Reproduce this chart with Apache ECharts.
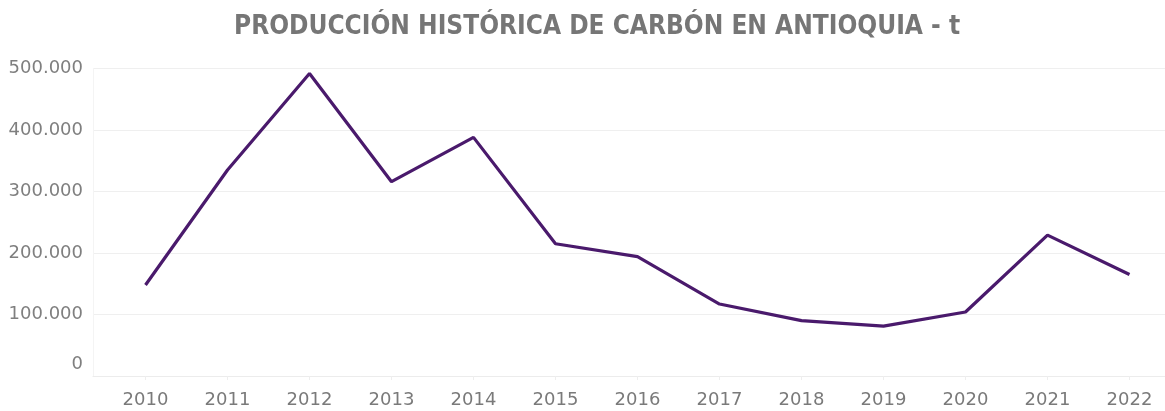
<!DOCTYPE html>
<html>
<head>
<meta charset="utf-8">
<script src="https://cdn.jsdelivr.net/npm/echarts@6/dist/echarts.min.js"></script>
<style>
  html, body { margin: 0; padding: 0; background: #fff; }
  #main { width: 1165px; height: 411px; }
</style>
</head>
<body>
<div id="main"></div>
<script>
const years = ["2010", "2011", "2012", "2013", "2014", "2015", "2016", "2017", "2018", "2019", "2020", "2021", "2022"];
const production = [148000, 335000, 492000, 316000, 388000, 215000, 194000, 117000, 90000, 81000, 104000, 229000, 165000];
const yTicks = [0, 100000, 200000, 300000, 400000, 500000];

const chart = echarts.init(document.getElementById("main"));

const fmt = (v) => (v === 0 ? "{z|0}" : String(v).replace(/\B(?=(\d{3})+(?!\d))/g, "."));
const labelFont = "DejaVu Sans";

chart.setOption({
  animation: false,
  title: {
    text: "PRODUCCIÓN HISTÓRICA DE CARBÓN EN ANTIOQUIA - t",
    left: 229,
    top: 9,
    textStyle: {
      fontFamily: "'DejaVu Sans Condensed', Roboto, sans-serif",
      fontWeight: "bold",
      fontSize: 26,
      color: "#767676",
    },
  },
  grid: [
    // background grid: gridlines + y labels
    { left: 93, right: 0, top: 68.5, bottom: 35, outerBoundsMode: "none" },
    // grid carrying the line
    { left: 104.5, width: 1066, top: 68.5, bottom: 35, outerBoundsMode: "none" },
  ],
  xAxis: [
    {
      gridIndex: 0,
      type: "category",
      data: [],
      axisLine: { show: true, lineStyle: { color: "#ececec" } },
      axisTick: { show: false },
      axisLabel: { show: false },
    },
    {
      gridIndex: 1,
      type: "category",
      data: years,
      boundaryGap: true,
      axisLine: { show: false },
      axisTick: { show: true, alignWithLabel: true, length: 4, lineStyle: { color: "#eeeeee" } },
      axisLabel: {
        margin: 15,
        fontFamily: labelFont,
        fontSize: 18,
        color: "#7a7a7a",
      },
    },
  ],
  yAxis: [
    {
      gridIndex: 0,
      type: "value",
      min: yTicks[0],
      max: yTicks[yTicks.length - 1],
      interval: 100000,
      axisLine: { show: true, lineStyle: { color: "#f4f4f4" } },
      axisTick: { show: false },
      splitLine: { show: true, lineStyle: { color: "#efefef", width: 1 } },
      axisLabel: {
        margin: 10,
        fontFamily: labelFont,
        fontSize: 18,
        color: "#7f7f7f",
        formatter: fmt,
        rich: {
          z: { fontFamily: labelFont, fontSize: 18, color: "#7f7f7f", padding: [0, 0, 24, 0] },
        },
      },
    },
    {
      gridIndex: 1,
      type: "value",
      min: yTicks[0],
      max: yTicks[yTicks.length - 1],
      show: false,
      splitLine: { show: false },
    },
  ],
  series: [
    {
      type: "line",
      xAxisIndex: 1,
      yAxisIndex: 1,
      data: production,
      symbol: "none",
      lineStyle: { color: "#4a1a6c", width: 3.2 },
      itemStyle: { color: "#4a1a6c" },
    },
  ],
});

window.addEventListener("resize", () => {
  chart.resize();
});
</script>
</body>
</html>
